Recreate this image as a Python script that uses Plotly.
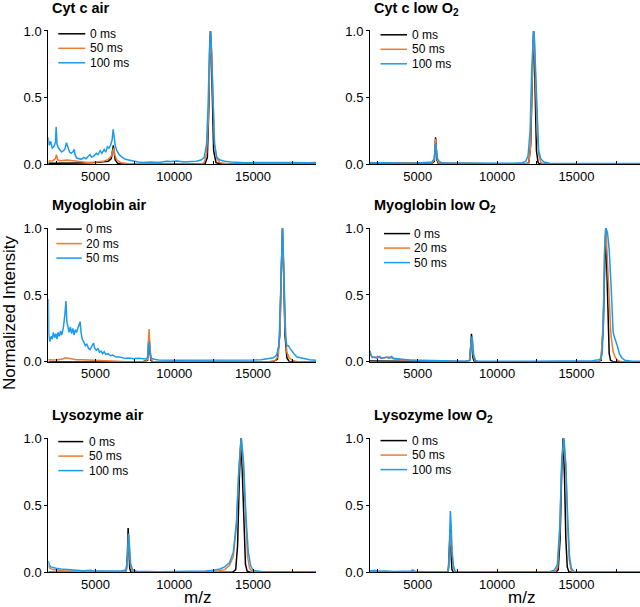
import plotly.graph_objects as go
from plotly.subplots import make_subplots

W, H = 640, 607

# ---------------- data (m/z, normalized intensity) ----------------
# Panel 1: Cyt c air  (0 / 50 / 100 ms)
cytc_air_mz_0 = [2000, 3000, 4000, 5000, 5800, 6000, 6080, 6130, 6180, 6250, 6400, 7000, 9000, 11500, 11950, 12100,
                 12200, 12260, 12300, 12340, 12400, 12500, 12650, 13000, 16000, 19000]
cytc_air_int_0 = [0.005, 0.005, 0.008, 0.012, 0.02, 0.04, 0.09, 0.14, 0.09, 0.03, 0.005, 0.0, 0.0, 0.0, 0.0, 0.05,
                  0.45, 0.9, 1.0, 0.9, 0.5, 0.1, 0.01, 0.0, 0.0, 0.0]
cytc_air_mz_50 = [2000, 2300, 2450, 2520, 2600, 2800, 3200, 3600, 4000, 4500, 5000, 5500, 5800, 6000, 6100, 6150, 6220,
                  6350, 6600, 7000, 9000, 11700, 11900, 12050, 12150, 12240, 12300, 12360, 12450, 12560, 12700, 12900,
                  13500, 19000]
cytc_air_int_50 = [0.02, 0.025, 0.04, 0.07, 0.03, 0.025, 0.03, 0.025, 0.015, 0.012, 0.015, 0.02, 0.035, 0.06, 0.1,
                   0.12, 0.07, 0.03, 0.01, 0.003, 0.0, 0.0, 0.01, 0.08, 0.3, 0.8, 1.0, 0.85, 0.45, 0.15, 0.04, 0.01,
                   0.0, 0.0]
cytc_air_mz_100 = [2000, 2050, 2150, 2250, 2350, 2450, 2500, 2550, 2650, 2750, 2850, 2950, 3050, 3150, 3250, 3350,
                   3450, 3550, 3650, 3700, 3800, 3950, 4100, 4250, 4400, 4550, 4650, 4750, 4900, 5050, 5150, 5300,
                   5400, 5550, 5650, 5750, 5850, 5950, 6050, 6120, 6180, 6250, 6350, 6500, 6700, 6900, 7100, 7400,
                   7700, 8000, 8500, 9000, 9500, 9800, 10200, 10600, 11000, 11400, 11700, 11900, 12050, 12150,
                   12230, 12300, 12370, 12450, 12550, 12700, 12900, 13200, 13600, 14500, 15500, 16500, 17500, 18500,
                   19000]
cytc_air_int_100 = [0.2, 0.14, 0.17, 0.12, 0.13, 0.16, 0.28, 0.15, 0.12, 0.1, 0.09, 0.1, 0.11, 0.16, 0.13, 0.09, 0.08,
                    0.09, 0.11, 0.07, 0.045, 0.04, 0.035, 0.05, 0.04, 0.06, 0.07, 0.05, 0.06, 0.08, 0.07, 0.1, 0.08,
                    0.11, 0.09, 0.13, 0.12, 0.14, 0.18, 0.26, 0.2, 0.14, 0.1, 0.07, 0.05, 0.035, 0.03, 0.02, 0.015,
                    0.012, 0.015, 0.012, 0.02, 0.018, 0.022, 0.015, 0.015, 0.02, 0.03, 0.05, 0.15, 0.45, 0.85, 1.0,
                    0.85, 0.45, 0.15, 0.05, 0.03, 0.02, 0.015, 0.01, 0.012, 0.01, 0.012, 0.01, 0.012]

# Panel 2: Cyt c low O2  (0 / 50 / 100 ms)
cytc_low_mz_0 = [2000, 5000, 5900, 6050, 6100, 6130, 6170, 6220, 6300, 11800, 12000, 12120, 12200, 12260, 12300,
                 12340, 12400, 12480, 12580, 12700, 19000]
cytc_low_int_0 = [0.005, 0.005, 0.005, 0.02, 0.12, 0.2, 0.12, 0.03, 0.005, 0.0, 0.01, 0.15, 0.55, 0.92, 1.0, 0.88,
                  0.45, 0.1, 0.01, 0.0, 0.0]
cytc_low_mz_50 = [2000, 5000, 5900, 6050, 6100, 6130, 6170, 6230, 6320, 11800, 12000, 12100, 12190, 12260, 12300,
                  12350, 12430, 12520, 12620, 12750, 12900, 19000]
cytc_low_int_50 = [0.008, 0.006, 0.008, 0.03, 0.12, 0.19, 0.13, 0.04, 0.008, 0.0, 0.01, 0.12, 0.55, 0.95, 1.0, 0.92,
                   0.6, 0.25, 0.07, 0.015, 0.0, 0.0]
cytc_low_mz_100 = [2000, 2500, 3000, 4000, 5000, 5600, 5900, 6050, 6100, 6140, 6180, 6250, 6350, 6500, 7000, 9000,
                   11000, 11600, 11800, 11950, 12080, 12180, 12250, 12300, 12350, 12430, 12520, 12620, 12750, 12950,
                   13300, 19000]
cytc_low_int_100 = [0.012, 0.008, 0.01, 0.006, 0.008, 0.01, 0.015, 0.04, 0.1, 0.155, 0.1, 0.04, 0.02, 0.01, 0.005,
                    0.003, 0.005, 0.01, 0.02, 0.06, 0.25, 0.7, 0.97, 1.0, 0.95, 0.65, 0.3, 0.1, 0.04, 0.015, 0.005,
                    0.003]

# Panel 3: Myoglobin air  (0 / 20 / 50 ms)
mb_air_mz_0 = [2000, 8000, 8300, 8350, 8400, 8450, 8520, 8600, 16300, 16550, 16700, 16800, 16870, 16940, 17030, 17150,
               17300, 19000]
mb_air_int_0 = [0.0, 0.0, 0.01, 0.08, 0.2, 0.08, 0.01, 0.0, 0.0, 0.02, 0.2, 0.7, 1.0, 0.7, 0.2, 0.03, 0.0, 0.0]
mb_air_mz_20 = [2000, 2300, 2600, 2900, 3100, 3300, 3500, 3800, 4200, 4800, 5500, 6000, 7000, 8200, 8300, 8350, 8400,
                8450, 8520, 8650, 16000, 16400, 16600, 16720, 16800, 16870, 16940, 17030, 17150, 17300, 17500, 17800,
                19000]
mb_air_int_20 = [0.015, 0.012, 0.015, 0.02, 0.03, 0.025, 0.02, 0.015, 0.015, 0.01, 0.008, 0.005, 0.0, 0.0, 0.02, 0.12,
                 0.245, 0.12, 0.02, 0.0, 0.0, 0.01, 0.04, 0.25, 0.72, 1.0, 0.72, 0.25, 0.07, 0.03, 0.01, 0.0, 0.0]
mb_air_mz_50 = [2000, 2030, 2100, 2180, 2250, 2320, 2400, 2480, 2550, 2620, 2700, 2780, 2850, 2950, 3050, 3120, 3180,
                3250, 3320, 3400, 3480, 3560, 3640, 3720, 3800, 3880, 3960, 4020, 4080, 4150, 4250, 4350, 4450, 4550,
                4650, 4750, 4870, 4950, 5050, 5150, 5250, 5350, 5450, 5550, 5650, 5800, 5950, 6100, 6300, 6500, 6700,
                6900, 7100, 7400, 7700, 8000, 8200, 8300, 8350, 8400, 8450, 8520, 8650, 9000, 10000, 11000, 12000,
                13000, 14000, 15000, 15500, 16000, 16300, 16500, 16650, 16750, 16820, 16870, 16930, 17000, 17080,
                17150, 17250, 17350, 17450, 17600, 17800, 18000, 18300, 18600, 19000]
mb_air_int_50 = [0.47, 0.2, 0.15, 0.19, 0.17, 0.22, 0.18, 0.21, 0.17, 0.22, 0.19, 0.23, 0.2, 0.25, 0.35, 0.455, 0.3,
                 0.26, 0.22, 0.26, 0.21, 0.25, 0.2, 0.24, 0.22, 0.25, 0.29, 0.3, 0.22, 0.17, 0.15, 0.12, 0.13, 0.1,
                 0.09, 0.11, 0.14, 0.1, 0.085, 0.1, 0.07, 0.08, 0.06, 0.075, 0.055, 0.06, 0.045, 0.05, 0.035, 0.035,
                 0.03, 0.025, 0.028, 0.022, 0.025, 0.02, 0.02, 0.03, 0.09, 0.15, 0.09, 0.03, 0.02, 0.012, 0.01, 0.01,
                 0.008, 0.01, 0.01, 0.012, 0.015, 0.025, 0.03, 0.05, 0.12, 0.5, 0.85, 1.0, 0.8, 0.4, 0.18, 0.12, 0.12,
                 0.1, 0.08, 0.06, 0.035, 0.03, 0.02, 0.015, 0.01]

# Panel 4: Myoglobin low O2  (0 / 20 / 50 ms)
mb_low_mz_0 = [2000, 3000, 8000, 8280, 8340, 8390, 8430, 8480, 8550, 8700, 16400, 16550, 16680, 16770, 16840, 16900,
               16980, 17060, 17150, 17300, 19000]
mb_low_int_0 = [0.005, 0.005, 0.0, 0.01, 0.1, 0.21, 0.12, 0.03, 0.005, 0.0, 0.0, 0.01, 0.25, 0.8, 1.0, 0.75, 0.3,
                0.06, 0.01, 0.0, 0.0]
mb_low_mz_20 = [2000, 2100, 2300, 2500, 2700, 3000, 3200, 3500, 4000, 5000, 6000, 7000, 8250, 8320, 8390, 8440, 8500,
                8600, 8800, 16400, 16550, 16680, 16770, 16850, 16930, 17020, 17100, 17170, 17300, 17450, 17600, 17800,
                19000]
mb_low_int_20 = [0.07, 0.04, 0.03, 0.04, 0.025, 0.03, 0.035, 0.02, 0.015, 0.008, 0.004, 0.002, 0.005, 0.07, 0.18,
                 0.15, 0.05, 0.01, 0.0, 0.0, 0.02, 0.3, 0.85, 1.0, 0.8, 0.5, 0.3, 0.2, 0.08, 0.03, 0.01, 0.0, 0.0]
mb_low_mz_50 = [2000, 2060, 2150, 2300, 2450, 2600, 2750, 2900, 3050, 3200, 3350, 3500, 3700, 4000, 4500, 5000, 5500,
                6000, 7000, 8000, 8300, 8360, 8420, 8470, 8530, 8650, 8800, 12000, 15000, 16000, 16400, 16500, 16620,
                16700, 16770, 16850, 16950, 17060, 17170, 17250, 17310, 17400, 17500, 17570, 17700, 17850, 18050,
                18500, 19000]
mb_low_int_50 = [0.08, 0.05, 0.03, 0.035, 0.025, 0.04, 0.025, 0.03, 0.035, 0.025, 0.04, 0.025, 0.02, 0.018, 0.012,
                 0.01, 0.012, 0.006, 0.004, 0.003, 0.01, 0.1, 0.19, 0.14, 0.05, 0.01, 0.003, 0.003, 0.004, 0.008,
                 0.015, 0.02, 0.06, 0.3, 0.8, 1.0, 0.97, 0.84, 0.59, 0.34, 0.22, 0.18, 0.15, 0.12, 0.06, 0.03, 0.01,
                 0.004, 0.003]

# Panel 5: Lysozyme air  (0 / 50 / 100 ms)
lyz_air_mz_0 = [2000, 6800, 6950, 7020, 7070, 7110, 7170, 7250, 13700, 13900, 14020, 14130, 14230, 14320, 14420, 14520,
                14620, 14800, 19000]
lyz_air_int_0 = [0.0, 0.0, 0.01, 0.12, 0.33, 0.15, 0.03, 0.0, 0.0, 0.02, 0.2, 0.7, 1.0, 0.75, 0.3, 0.06, 0.01, 0.0,
                 0.0]
lyz_air_mz_50 = [2000, 2100, 2300, 2600, 3000, 3500, 4500, 5500, 6500, 6950, 7030, 7090, 7140, 7220, 7330, 7500, 12000,
                 12800, 13200, 13500, 13750, 13950, 14100, 14250, 14380, 14520, 14650, 14780, 14950, 19000]
lyz_air_int_50 = [0.05, 0.03, 0.02, 0.015, 0.012, 0.01, 0.008, 0.006, 0.005, 0.01, 0.1, 0.28, 0.2, 0.05, 0.01, 0.002,
                  0.002, 0.01, 0.02, 0.05, 0.12, 0.35, 0.75, 1.0, 0.8, 0.4, 0.12, 0.03, 0.005, 0.0]
lyz_air_mz_100 = [2000, 2050, 2150, 2300, 2500, 2800, 3200, 3700, 4200, 4700, 4800, 5500, 6200, 6700, 6950, 7040, 7100,
                  7150, 7230, 7350, 7600, 9000, 11000, 12000, 12500, 12900, 13200, 13500, 13750, 13950, 14100, 14260,
                  14400, 14550, 14700, 14850, 15000, 15500, 17000, 19000]
lyz_air_int_100 = [0.085, 0.06, 0.04, 0.035, 0.03, 0.025, 0.02, 0.015, 0.012, 0.015, 0.01, 0.01, 0.01, 0.012, 0.02,
                   0.12, 0.29, 0.22, 0.06, 0.02, 0.008, 0.005, 0.006, 0.01, 0.015, 0.025, 0.04, 0.07, 0.15, 0.38, 0.78,
                   1.0, 0.82, 0.42, 0.15, 0.05, 0.015, 0.006, 0.004, 0.004]

# Panel 6: Lysozyme low O2  (0 / 50 / 100 ms)
lyz_low_mz_0 = [2000, 6800, 6930, 7000, 7050, 7100, 7160, 7250, 13700, 13850, 13970, 14070, 14160, 14250, 14330, 14420,
                14520, 14700, 19000]
lyz_low_int_0 = [0.0, 0.0, 0.01, 0.15, 0.316, 0.15, 0.02, 0.0, 0.0, 0.02, 0.25, 0.75, 1.0, 0.7, 0.25, 0.04, 0.005, 0.0,
                 0.0]
lyz_low_mz_50 = [2000, 3000, 5000, 6900, 6970, 7040, 7080, 7140, 7220, 7320, 7450, 13650, 13820, 13950, 14070, 14200,
                 14320, 14430, 14540, 14650, 14800, 19000]
lyz_low_int_50 = [0.01, 0.005, 0.003, 0.003, 0.05, 0.25, 0.3, 0.2, 0.06, 0.01, 0.0, 0.0, 0.04, 0.3, 0.8, 1.0, 0.8, 0.4,
                  0.1, 0.02, 0.0, 0.0]
lyz_low_mz_100 = [2000, 2300, 2500, 3000, 3500, 4000, 4600, 4700, 4800, 5500, 6500, 6900, 6960, 7010, 7060, 7110, 7170,
                  7250, 7350, 7500, 12000, 13300, 13600, 13800, 13950, 14070, 14210, 14330, 14450, 14560, 14680, 14850,
                  19000]
lyz_low_int_100 = [0.01, 0.015, 0.008, 0.01, 0.006, 0.008, 0.01, 0.018, 0.008, 0.005, 0.004, 0.006, 0.05, 0.25, 0.457,
                   0.35, 0.15, 0.05, 0.01, 0.003, 0.003, 0.005, 0.015, 0.06, 0.35, 0.82, 1.0, 0.8, 0.4, 0.12, 0.03,
                   0.005, 0.003]

panel_titles = ["Cyt c air", "Cyt c low O<sub>2</sub>", "Myoglobin air", "Myoglobin low O<sub>2</sub>",
                "Lysozyme air", "Lysozyme low O<sub>2</sub>"]
legend_labels = [["0 ms", "50 ms", "100 ms"], ["0 ms", "50 ms", "100 ms"],
                 ["0 ms", "20 ms", "50 ms"], ["0 ms", "20 ms", "50 ms"],
                 ["0 ms", "50 ms", "100 ms"], ["0 ms", "50 ms", "100 ms"]]
panel_series = [
    [(cytc_air_mz_0, cytc_air_int_0), (cytc_air_mz_50, cytc_air_int_50), (cytc_air_mz_100, cytc_air_int_100)],
    [(cytc_low_mz_0, cytc_low_int_0), (cytc_low_mz_50, cytc_low_int_50), (cytc_low_mz_100, cytc_low_int_100)],
    [(mb_air_mz_0, mb_air_int_0), (mb_air_mz_20, mb_air_int_20), (mb_air_mz_50, mb_air_int_50)],
    [(mb_low_mz_0, mb_low_int_0), (mb_low_mz_20, mb_low_int_20), (mb_low_mz_50, mb_low_int_50)],
    [(lyz_air_mz_0, lyz_air_int_0), (lyz_air_mz_50, lyz_air_int_50), (lyz_air_mz_100, lyz_air_int_100)],
    [(lyz_low_mz_0, lyz_low_int_0), (lyz_low_mz_50, lyz_low_int_50), (lyz_low_mz_100, lyz_low_int_100)],
]
x_tick_vals = [5000, 10000, 15000]
x_minor_vals = [2500, 7500, 12500, 17500]
y_tick_vals = [0.0, 0.5, 1.0]

# ---------------- styling / layout ----------------
colors = ["#000000", "#EE7B30", "#1C9BEA"]
FONT = "Liberation Sans, Arial, Helvetica, sans-serif"

col_px = [(48.3, 316.0), (370.0, 640.0)]          # left/right pixel edges of plot areas
row_px = [(30.3, 164.0), (227.6, 361.7), (437.6, 572.3)]  # top/bottom pixel edges
legend_dx = [(10, 37, 39.5), (10.5, 37, 40), (8, 33.5, 36), (14, 40, 42), (10, 35, 39), (10.5, 37, 40)]
legend_dy = [3.5, 4.5, 1.5, 6, 4, 3]


def px_x(p):
    return p / W


def px_y(p):
    return 1 - p / H


fig = make_subplots(rows=3, cols=2)

for i, series in enumerate(panel_series):
    r, c = divmod(i, 2)
    for k, (mz, inten) in enumerate(series):
        fig.add_trace(go.Scatter(x=mz, y=inten, mode="lines",
                                 line=dict(color=colors[k], width=1.5),
                                 name=legend_labels[i][k], showlegend=False,
                                 hoverinfo="skip"),
                      row=r + 1, col=c + 1)

annotations = []
shapes = []
for i in range(6):
    r, c = divmod(i, 2)
    n = i + 1
    xa = "xaxis" if n == 1 else f"xaxis{n}"
    ya = "yaxis" if n == 1 else f"yaxis{n}"
    x0, x1 = col_px[c]
    yt, yb = row_px[r]
    fig.layout[xa].update(
        domain=[px_x(x0), px_x(x1)], range=[2000, 19000],
        showline=True, linecolor="black", linewidth=1, showgrid=False, zeroline=False,
        ticks="inside", ticklen=3, tickwidth=1, tickcolor="black",
        tickvals=x_tick_vals, tickformat="d", automargin=False,
        minor=dict(tickvals=x_minor_vals, ticks="inside", ticklen=3, tickcolor="black", showgrid=False),
        tickfont=dict(family=FONT, size=13, color="black"))
    fig.layout[ya].update(
        domain=[px_y(yb), px_y(yt)], range=[0, 1.005],
        showline=True, linecolor="black", linewidth=1, showgrid=False, zeroline=False,
        ticks="outside", ticklen=3, tickwidth=1, tickcolor="black",
        tickvals=y_tick_vals, tickformat=".1f", automargin=False,
        tickfont=dict(family=FONT, size=13, color="black"))

    # panel title (top-anchored so the subscript does not lift the line)
    annotations.append(dict(text="<b>" + panel_titles[i] + "</b>", xref="paper", yref="paper",
                            x=px_x(x0 + 1.5), y=px_y(yt - 32.5), xanchor="left", yanchor="top",
                            showarrow=False, font=dict(family=FONT, size=14.5, color="black")))
    # legend (line sample + label)
    lx0, lx1, tx = legend_dx[i]
    for k in range(3):
        yy = yt + legend_dy[i] + 14.5 * k
        shapes.append(dict(type="line", xref="paper", yref="paper",
                           x0=px_x(x0 + lx0), x1=px_x(x0 + lx1), y0=px_y(yy), y1=px_y(yy),
                           line=dict(color=colors[k], width=1.5)))
        annotations.append(dict(text=legend_labels[i][k], xref="paper", yref="paper",
                                x=px_x(x0 + tx), y=px_y(yy), xanchor="left", yanchor="middle",
                                showarrow=False, font=dict(family=FONT, size=12, color="black")))

annotations.append(dict(text="Normalized Intensity", xref="paper", yref="paper", x=px_x(9), y=px_y(313),
                        textangle=-90, xanchor="center", yanchor="middle", showarrow=False,
                        font=dict(family=FONT, size=17, color="black")))
for cx in (197.5, 521.0):
    annotations.append(dict(text="m/z", xref="paper", yref="paper", x=px_x(cx), y=px_y(597),
                            xanchor="center", yanchor="middle", showarrow=False,
                            font=dict(family=FONT, size=17, color="black")))

fig.update_layout(width=W, height=H, margin=dict(l=0, r=0, t=0, b=0, autoexpand=False),
                  paper_bgcolor="white", plot_bgcolor="white",
                  showlegend=False, annotations=annotations, shapes=shapes)

fig.write_html("out.html", config={"displayModeBar": False},
               post_script="document.body.style.margin='0';document.body.style.overflow='hidden';")
